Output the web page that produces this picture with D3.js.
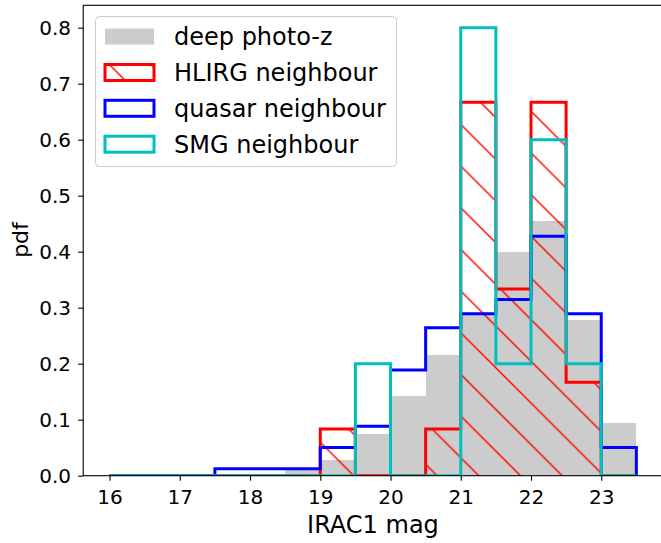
<!DOCTYPE html>
<html>
<head>
<meta charset="utf-8">
<script src="https://cdn.jsdelivr.net/npm/d3@7"></script>
<style>
  html, body { margin: 0; padding: 0; background: #ffffff; }
  svg { display: block; }
  text { font-family: "DejaVu Sans", sans-serif; fill: #000; }
</style>
</head>
<body>
<svg id="chart" width="661" height="543"></svg>
<script>
// Histogram bin edges (IRAC1 magnitude) and the normalised pdf of each sample
const binEdges = [16, 16.5, 17, 17.5, 18, 18.5, 19, 19.5, 20, 20.5, 21, 21.5, 22, 22.5, 23, 23.5];
const deepPhotoZ      = [0, 0, 0, 0, 0, 0.013, 0.028, 0.074, 0.143, 0.216, 0.287, 0.400, 0.455, 0.278, 0.095];
const hlirgNeighbour  = [0, 0, 0, 0, 0, 0, 0.0833, 0, 0, 0.0833, 0.6667, 0.3333, 0.6667, 0.1667, 0];
const quasarNeighbour = [0, 0, 0, 0.0126, 0.0126, 0.0126, 0.0503, 0.0881, 0.1887, 0.2642, 0.2893, 0.3145, 0.4277, 0.2893, 0.0503];
const smgNeighbour    = [0, 0, 0, 0, 0, 0, 0, 0.2, 0, 0, 0.8, 0.2, 0.6, 0.2, 0];

const xTicks = [16, 17, 18, 19, 20, 21, 22, 23];
const yTicks = [0, 0.1, 0.2, 0.3, 0.4, 0.5, 0.6, 0.7, 0.8];
const legendLabels = ["deep photo-z", "HLIRG neighbour", "quasar neighbour", "SMG neighbour"];
const xLabel = "IRAC1 mag";
const yLabel = "pdf";

(function draw() {
  const svg = d3.select("#chart");

  // Axes box
  const boxL = 83.2, boxR = 662.7, boxT = 5.3, boxB = 475.7;
  const x = d3.scaleLinear().domain([15.625, 23.875]).range([boxL, boxR]);
  const y = d3.scaleLinear().domain([0, 0.84]).range([boxB, boxT]);

  const defs = svg.append("defs");
  defs.append("clipPath").attr("id", "axes-clip")
    .append("rect")
    .attr("x", boxL).attr("y", boxT)
    .attr("width", boxR - boxL).attr("height", boxB - boxT);

  // Diagonal "\\" hatch used for the HLIRG histogram
  const P = 41.67;
  const hatch = defs.append("pattern")
    .attr("id", "hatch-red")
    .attr("patternUnits", "userSpaceOnUse")
    .attr("width", P).attr("height", P)
    .attr("patternTransform", "translate(0,38.6)");
  [[-3, -3, P + 3, P + 3], [-3, P - 3, 3, P + 3], [P - 3, -3, P + 3, 3]].forEach(s => {
    hatch.append("line")
      .attr("x1", s[0]).attr("y1", s[1]).attr("x2", s[2]).attr("y2", s[3])
      .attr("stroke", "#ff0000").attr("stroke-width", 1.4);
  });

  // Build a step outline (open) from bin edges and values
  function stepPoints(vals) {
    const pts = [[binEdges[0], 0]];
    vals.forEach((v, i) => {
      pts.push([binEdges[i], v]);
      pts.push([binEdges[i + 1], v]);
    });
    pts.push([binEdges[binEdges.length - 1], 0]);
    return pts;
  }
  const line = d3.line().x(d => x(d[0])).y(d => y(d[1]));

  const plot = svg.append("g").attr("clip-path", "url(#axes-clip)");

  // Filled grey histogram
  plot.append("g").selectAll("rect")
    .data(deepPhotoZ.map((v, i) => ({ x0: binEdges[i], x1: binEdges[i + 1], v })))
    .join("rect")
    .attr("x", d => x(d.x0))
    .attr("width", d => x(d.x1) - x(d.x0))
    .attr("y", d => y(d.v))
    .attr("height", d => y(0) - y(d.v))
    .attr("fill", "#cccccc")
    .attr("shape-rendering", "crispEdges");

  // HLIRG: hatched area plus step outline
  plot.append("path")
    .attr("d", line(stepPoints(hlirgNeighbour)) + "Z")
    .attr("fill", "url(#hatch-red)")
    .attr("stroke", "none");

  const steps = [
    { vals: hlirgNeighbour, color: "#ff0000" },
    { vals: quasarNeighbour, color: "#0000ff" },
    { vals: smgNeighbour, color: "#00bfbf" }
  ];
  steps.forEach(s => {
    plot.append("path")
      .attr("d", line(stepPoints(s.vals)))
      .attr("fill", "none")
      .attr("stroke", s.color)
      .attr("stroke-width", 3)
      .attr("stroke-linejoin", "miter")
      .attr("stroke-linecap", "butt");
  });

  // Spines
  svg.append("rect")
    .attr("x", boxL).attr("y", boxT)
    .attr("width", boxR - boxL).attr("height", boxB - boxT)
    .attr("fill", "none").attr("stroke", "#000").attr("stroke-width", 1.1);

  // Axes
  const xAxis = svg.append("g")
    .attr("transform", `translate(0,${boxB})`)
    .call(d3.axisBottom(x).tickValues(xTicks).tickFormat(d3.format("d")).tickSize(5).tickPadding(9.5));
  const yAxis = svg.append("g")
    .attr("transform", `translate(${boxL},0)`)
    .call(d3.axisLeft(y).tickValues(yTicks).tickFormat(d3.format(".1f")).tickSize(5).tickPadding(7.2));
  [xAxis, yAxis].forEach(a => {
    a.select(".domain").remove();
    a.selectAll(".tick line").attr("stroke", "#000").attr("stroke-width", 1.1);
    a.selectAll(".tick text")
      .attr("font-family", "DejaVu Sans")
      .attr("font-size", 20)
      .attr("fill", "#000");
  });
  yAxis.selectAll(".tick text").attr("dy", "0.36em");

  // Axis labels
  svg.append("text")
    .attr("x", (boxL + boxR) / 2).attr("y", 533.3)
    .attr("text-anchor", "middle")
    .attr("font-size", 24)
    .text(xLabel);
  svg.append("text")
    .attr("transform", "translate(27.7,240) rotate(-90)")
    .attr("text-anchor", "middle")
    .attr("font-size", 22)
    .text(yLabel);

  // Legend
  const legend = svg.append("g");
  legend.append("rect")
    .attr("x", 95.5).attr("y", 16.5)
    .attr("width", 301).attr("height", 150)
    .attr("rx", 4).attr("ry", 4)
    .attr("fill", "#ffffff").attr("fill-opacity", 0.8)
    .attr("stroke", "#cccccc").attr("stroke-width", 1);

  const rowY = [36.6, 72.5, 108.3, 144.2];
  const handles = [
    { fill: "#cccccc", stroke: "none" },
    { fill: "url(#hatch-red)", stroke: "#ff0000" },
    { fill: "none", stroke: "#0000ff" },
    { fill: "none", stroke: "#00bfbf" }
  ];
  legendLabels.forEach((lab, i) => {
    const cy = rowY[i];
    const h = handles[i];
    legend.append("rect")
      .attr("x", 105).attr("y", cy - 8)
      .attr("width", 49).attr("height", 16)
      .attr("fill", h.fill)
      .attr("stroke", h.stroke)
      .attr("stroke-width", 3)
      .attr("stroke-linejoin", "miter");
    legend.append("text")
      .attr("x", 174).attr("y", cy + 8.7)
      .attr("font-size", 24)
      .text(lab);
  });
})();
</script>
</body>
</html>
